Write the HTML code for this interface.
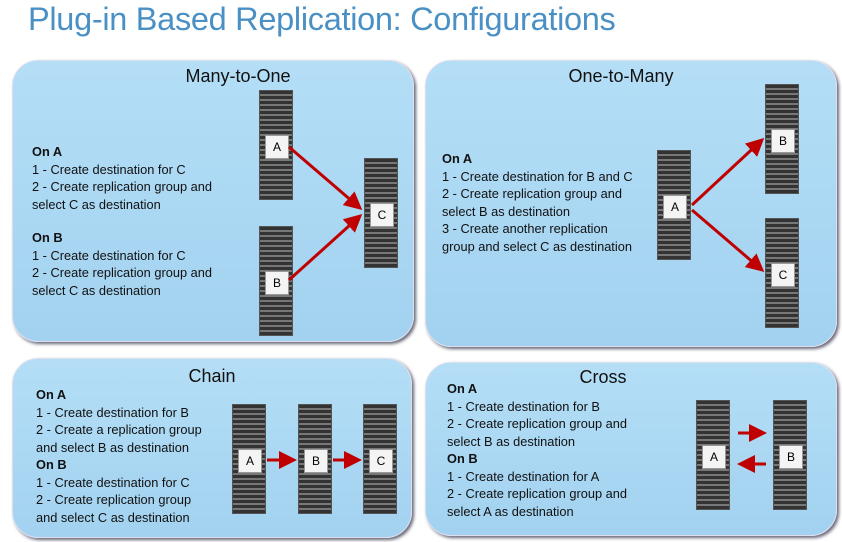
<!DOCTYPE html><html><head><style>
body{margin:0;width:842px;height:542px;background:#fff;position:relative;overflow:hidden;font-family:"Liberation Sans",sans-serif}
.t{position:absolute;left:28px;top:1px;font-size:32.5px;color:#4a90c4;letter-spacing:-0.3px}
.p{position:absolute;background:linear-gradient(#b4def6,#a2d2f0);border-radius:26px;box-shadow:2px 2px 3px #667;border:1px solid #dde}
.h{position:absolute;font-size:18px;color:#111;width:100%;text-align:center}
.x{position:absolute;font-size:12.8px;line-height:17.5px;color:#111}
.s{position:absolute;width:34px;height:110px;background:repeating-linear-gradient(#333 0 3px,#777 3px 5px);border:1px solid #555;box-sizing:border-box}
.l{position:absolute;width:22px;height:22px;background:#f4f4f4;border:1px solid #999;font-size:12px;text-align:center;line-height:22px;left:5px;top:44px}
</style></head><body>
<div class="t">Plug-in Based Replication: Configurations</div>
<div class="p" style="left:12px;top:60px;width:400px;height:280px"><div class="h" style="top:5px;left:25px">Many-to-One</div></div>
<div class="p" style="left:425px;top:60px;width:410px;height:285px"><div class="h" style="top:5px;left:-10px">One-to-Many</div></div>
<div class="p" style="left:12px;top:358px;width:398px;height:178px"><div class="h" style="top:7px;left:0px">Chain</div></div>
<div class="p" style="left:425px;top:362px;width:410px;height:172px"><div class="h" style="top:4px;left:-28px">Cross</div></div>
<div class="x" style="left:32px;top:143px"><b>On A</b><br>1 - Create destination for C<br>2 - Create replication group and<br>select C as destination</div>
<div class="x" style="left:32px;top:229px"><b>On B</b><br>1 - Create destination for C<br>2 - Create replication group and<br>select C as destination</div>
<div class="x" style="left:442px;top:150px"><b>On A</b><br>1 - Create destination for B and C<br>2 - Create replication group and<br>select B as destination<br>3 - Create another replication<br>group and select C as destination</div>
<div class="x" style="left:36px;top:386px"><b>On A</b><br>1 - Create destination for B<br>2 - Create a replication group<br>and select B as destination<br><b>On B</b><br>1 - Create destination for C<br>2 - Create replication group<br>and select C as destination</div>
<div class="x" style="left:447px;top:380px"><b>On A</b><br>1 - Create destination for B<br>2 - Create replication group and<br>select B as destination<br><b>On B</b><br>1 - Create destination for A<br>2 - Create replication group and<br>select A as destination</div>
<div class="s" style="left:259px;top:90px"><div class="l">A</div></div>
<div class="s" style="left:259px;top:226px"><div class="l">B</div></div>
<div class="s" style="left:364px;top:158px"><div class="l">C</div></div>
<div class="s" style="left:657px;top:150px"><div class="l">A</div></div>
<div class="s" style="left:765px;top:84px"><div class="l">B</div></div>
<div class="s" style="left:765px;top:218px"><div class="l">C</div></div>
<div class="s" style="left:232px;top:404px"><div class="l">A</div></div>
<div class="s" style="left:298px;top:404px"><div class="l">B</div></div>
<div class="s" style="left:363px;top:404px"><div class="l">C</div></div>
<div class="s" style="left:696px;top:400px"><div class="l">A</div></div>
<div class="s" style="left:773px;top:400px"><div class="l">B</div></div>
<svg width="842" height="542" style="position:absolute;left:0;top:0">
<defs><marker id="m" markerWidth="6" markerHeight="6" refX="5" refY="3" orient="auto"><path d="M0,0L6,3L0,6z" fill="#c00000"/></marker></defs>
<g stroke="#c00000" stroke-width="3" fill="none" marker-end="url(#m)">
<line x1="289" y1="147" x2="360" y2="208"/><line x1="289" y1="280" x2="360" y2="216"/>
<line x1="692" y1="205" x2="762" y2="140"/><line x1="692" y1="210" x2="762" y2="270"/>
<line x1="267" y1="460" x2="294" y2="460"/><line x1="333" y1="460" x2="359" y2="460"/>
<line x1="738" y1="433" x2="764" y2="433"/><line x1="766" y1="464" x2="740" y2="464"/>
</g></svg>
</body></html>
